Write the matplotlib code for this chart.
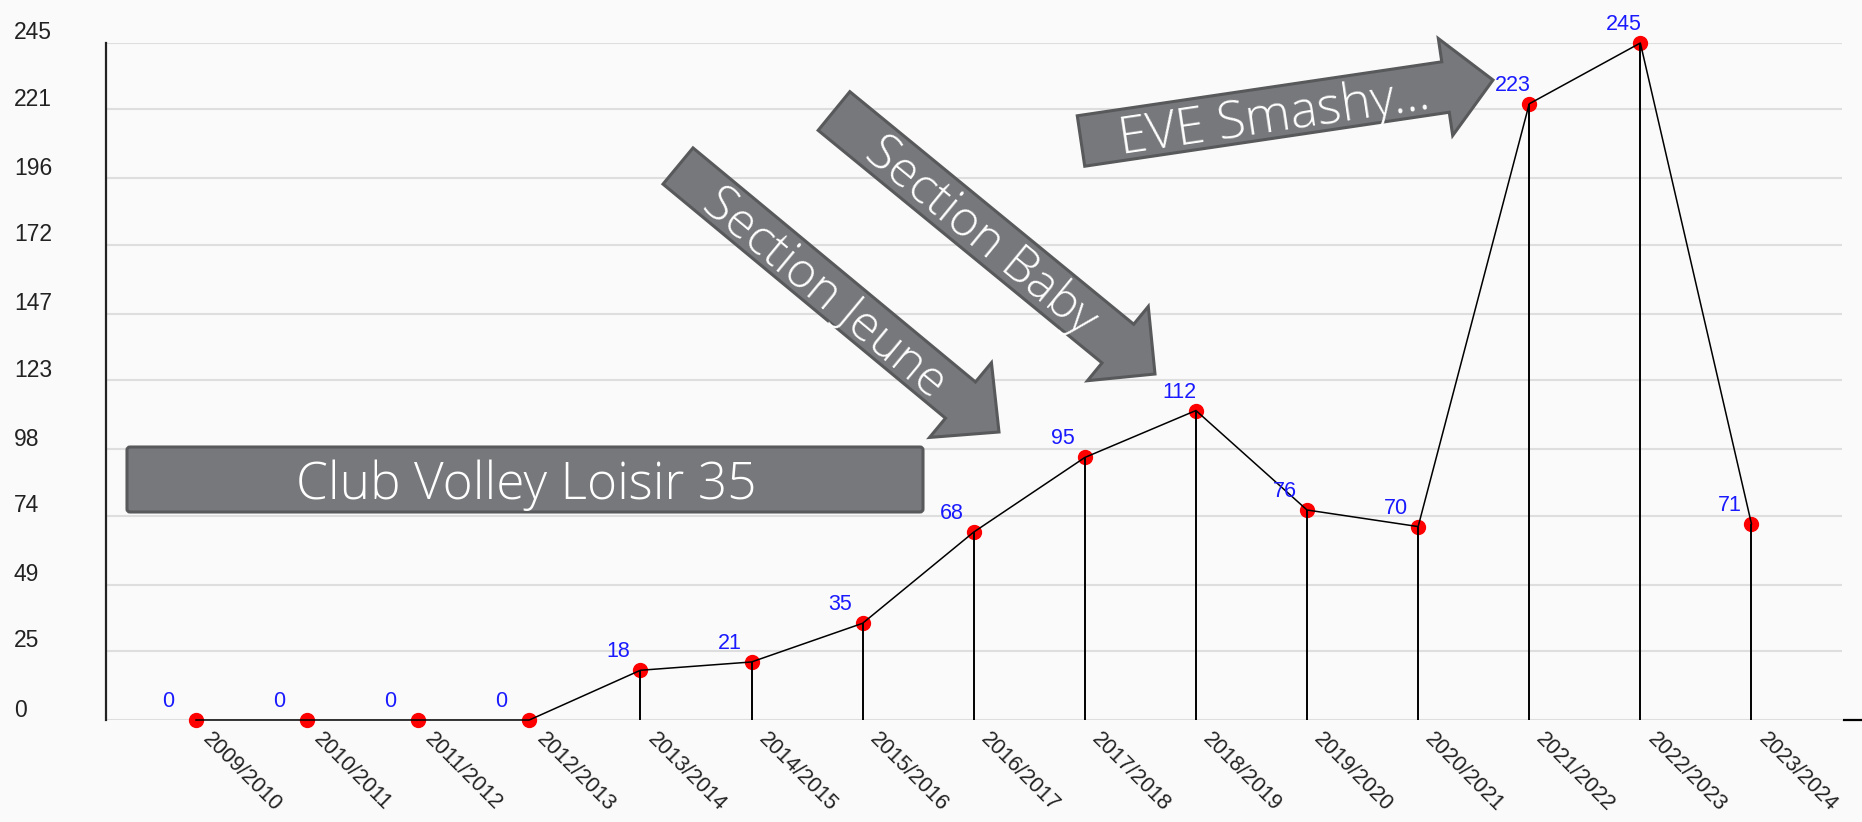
import numpy as np
import matplotlib
matplotlib.use("Agg")
import matplotlib.pyplot as plt
from matplotlib.patches import Polygon, FancyBboxPatch

# data
seasons = ["2009/2010", "2010/2011", "2011/2012", "2012/2013", "2013/2014",
           "2014/2015", "2015/2016", "2016/2017", "2017/2018", "2018/2019",
           "2019/2020", "2020/2021", "2021/2022", "2022/2023", "2023/2024"]
members = [0, 0, 0, 0, 18, 21, 35, 68, 95, 112, 76, 70, 223, 245, 71]
yticks = [0, 25, 49, 74, 98, 123, 147, 172, 196, 221, 245]

W, H = 1862, 822
BG = "#fafafa"
BOX_FILL = "#77787b"
BOX_EDGE = "#58595b"
LABEL_FONT = ["Liberation Sans", "DejaVu Sans"]
NOTE_FONT = ["Open Sans", "Lato", "DejaVu Sans"]

fig = plt.figure(figsize=(W / 100, H / 100), dpi=100, facecolor=BG)
ax = fig.add_axes([106 / W, 1 - 720 / H, 1736 / W, 677 / H])
ax.set_facecolor(BG)

x = np.arange(len(members))
ax.set_xlim(-0.81, 14.815)
ax.set_ylim(0, 245)

# grid + axis
for t in yticks:
    ax.axhline(t, color="#dedede", lw=1.5, zorder=0)
for s in ["top", "right", "bottom"]:
    ax.spines[s].set_visible(False)
ax.spines["left"].set_linewidth(1.6)
ax.spines["left"].set_color("#222222")
ax.set_xticks([])
ax.set_yticks([])

for t in yticks:
    ax.annotate(str(t), xy=(0, t), xycoords=("axes fraction", "data"),
                xytext=(-92, 10), textcoords="offset pixels",
                ha="left", va="center", fontsize=16.5, color="#222222",
                family=LABEL_FONT, annotation_clip=False)

# series
ax.plot(x, members, "o", color="red", ms=10, mec="red", zorder=2, clip_on=False)
ax.vlines(x, 0, members, color="black", lw=1.4, zorder=3)
ax.plot(x, members, color="black", lw=1.1, zorder=3, clip_on=False)

for xi, v in zip(x, members):
    ax.annotate(str(v), xy=(xi, v), xytext=(-34, 13), textcoords="offset pixels",
                ha="left", va="baseline", fontsize=15.5, color="#1a1aff",
                family=LABEL_FONT, annotation_clip=False)

for xi, lab in zip(x, seasons):
    ax.annotate(lab, xy=(xi, 0), xytext=(10, -16), textcoords="offset pixels",
                ha="left", va="center", rotation=-45, rotation_mode="anchor",
                fontsize=15.5, color="#222222", family=LABEL_FONT,
                annotation_clip=False)

# overlay in pixel coordinates for the callouts
ov = fig.add_axes([0, 0, 1, 1], zorder=5)
ov.set_xlim(0, W)
ov.set_ylim(H, 0)
ov.axis("off")
ov.patch.set_alpha(0)

ov.plot([1844, 1862], [720, 720], color="black", lw=1.6)


def arrow_shape(tail, tip, shaft_w, head_w, head_l):
    t = np.array(tail, float)
    p = np.array(tip, float)
    u = (p - t) / np.linalg.norm(p - t)
    n = np.array([-u[1], u[0]])
    b = p - u * head_l
    return [t + n * shaft_w / 2, b + n * shaft_w / 2, b + n * head_w / 2, p,
            b - n * head_w / 2, b - n * shaft_w / 2, t - n * shaft_w / 2]


def note_text(cx, cy, angle, text, size):
    th = np.radians(angle)
    cap = 0.72 * size * 100 / 72
    ax_x = cx + np.sin(th) * cap / 2
    ax_y = cy + np.cos(th) * cap / 2
    ov.text(ax_x, ax_y, text, rotation=angle, rotation_mode="anchor",
            ha="center", va="baseline", color="white", fontsize=size,
            family=NOTE_FONT, fontweight="light", zorder=10)


arrows = [
    ("Section Jeune", (678, 166), (999, 432), 47, 97, 50, 194, 35.5),
    ("Section Baby", (834, 111), (1155, 374), 50, 96, 48, 193, 35.5),
    ("EVE Smashy...", (1081, 141), (1493, 80), 51, 98, 48, 195, 37),
]
for text, tail, tip, sw, hw, hl, along, size in arrows:
    ov.add_patch(Polygon(arrow_shape(tail, tip, sw, hw, hl), closed=True,
                         facecolor=BOX_FILL, edgecolor=BOX_EDGE, lw=2.2,
                         joinstyle="miter"))
    d = np.array(tip, float) - np.array(tail, float)
    u = d / np.linalg.norm(d)
    c = np.array(tail, float) + u * along
    ang = -np.degrees(np.arctan2(d[1], d[0]))
    note_text(c[0], c[1], ang, text, size)

ov.add_patch(FancyBboxPatch((127, 447), 796, 65,
                            boxstyle="round,pad=0,rounding_size=3",
                            facecolor=BOX_FILL, edgecolor=BOX_EDGE, lw=2.2))
note_text(526, 480.5, 0, "Club Volley Loisir 35", 37)

fig.savefig("out.png", dpi=100, facecolor=BG)
